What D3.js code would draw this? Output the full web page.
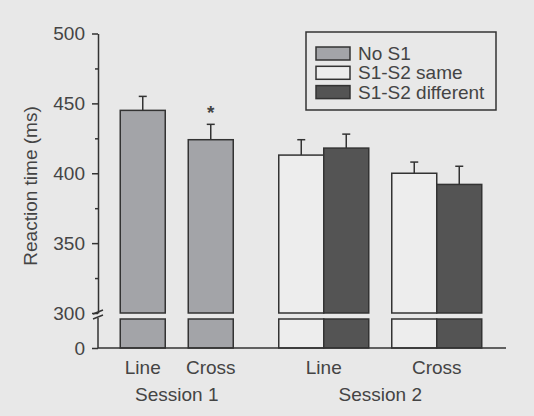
<!DOCTYPE html>
<html>
<head>
<meta charset="utf-8">
<script src="https://cdn.jsdelivr.net/npm/d3@7"></script>
<style>
  body { margin: 0; background: #e8e8e8; }
  svg { display: block; font-family: "Liberation Sans", Arial, sans-serif; }
</style>
</head>
<body>
<div id="container"></div>
<script>
(function(){

  // data
  var sessions = ["Session 1", "Session 2"]
  var conditions = ["Line", "Cross"]
  var seriesNames = ["No S1", "S1-S2 same", "S1-S2 different"]
  var seriesColors = ["#a3a4a8", "#ededed", "#545454"]

  // mean reaction time (ms) and error (ms), per condition [Line, Cross]
  var noS1Mean = [445, 424]
  var noS1Err = [10, 11]
  var sameMean = [413, 400]
  var sameErr = [11, 8]
  var diffMean = [418, 392]
  var diffErr = [10, 13]

  var yTicks = [300, 350, 400, 450, 500]
  var yMinor = [325, 375, 425, 475]

  var rows = []
  conditions.forEach(function(c, i){
    rows.push({session: "Session 1", cond: c, series: "No S1", mean: noS1Mean[i], err: noS1Err[i], star: c === "Cross"})
    rows.push({session: "Session 2", cond: c, series: "S1-S2 same", mean: sameMean[i], err: sameErr[i]})
    rows.push({session: "Session 2", cond: c, series: "S1-S2 different", mean: diffMean[i], err: diffErr[i]})
  })

  var width = 534, height = 416
  var svg = d3.select("#container").append("svg")
      .attr("width", width).attr("height", height)

  // scales
  var yTop = d3.scaleLinear().domain([300, 500]).range([313, 33.5])
  var yBot = d3.scaleLinear().domain([0, 300]).range([348, 319])
  var color = d3.scaleOrdinal().domain(seriesNames).range(seriesColors)

  var xSession = d3.scaleBand().domain(sessions).range([75, 482]).paddingInner(0)
  var barW = 45, condGap = 23

  function seriesIn(s){
    return seriesNames.filter(function(n){
      return rows.some(function(r){ return r.session === s && r.series === n })
    })
  }
  // per-session band for conditions, per-session band for series
  var xCond = {}, xSeries = {}
  sessions.forEach(function(s){
    var ser = seriesIn(s)
    var gw = ser.length * barW
    var total = conditions.length * gw + (conditions.length - 1) * condGap
    var c0 = xSession(s) + xSession.bandwidth() / 2 - total / 2
    var p = condGap / (gw + condGap)
    xCond[s] = d3.scaleBand().domain(conditions).range([c0, c0 + total]).paddingInner(p).paddingOuter(0)
    xSeries[s] = d3.scaleBand().domain(ser).range([0, gw])
  })
  function bx(d){ return xCond[d.session](d.cond) + xSeries[d.session](d.series) }

  var ink = "#333"
  var textCol = "#444"
  var fs = "19px"

  // bars - upper part
  svg.append("g").selectAll("rect")
    .data(rows).enter().append("rect")
      .attr("x", bx)
      .attr("y", function(d){ return yTop(d.mean) })
      .attr("width", barW)
      .attr("height", function(d){ return yTop(300) - yTop(d.mean) })
      .attr("fill", function(d){ return color(d.series) })
      .attr("stroke", ink).attr("stroke-width", 1.5)

  // bars - lower stub below the break
  svg.append("g").selectAll("rect")
    .data(rows).enter().append("rect")
      .attr("x", bx)
      .attr("y", yBot(300))
      .attr("width", barW)
      .attr("height", yBot(0) - yBot(300))
      .attr("fill", function(d){ return color(d.series) })
      .attr("stroke", ink).attr("stroke-width", 1.5)

  // error bars
  var eb = svg.append("g").attr("stroke", ink).attr("stroke-width", 1.5)
  rows.forEach(function(d){
    var cx = bx(d) + barW / 2
    eb.append("line").attr("x1", cx).attr("x2", cx)
      .attr("y1", yTop(d.mean)).attr("y2", yTop(d.mean + d.err))
    eb.append("line").attr("x1", cx - 4).attr("x2", cx + 4)
      .attr("y1", yTop(d.mean + d.err)).attr("y2", yTop(d.mean + d.err))
  })

  // significance star
  rows.filter(function(d){ return d.star }).forEach(function(d){
    svg.append("text")
      .attr("x", bx(d) + barW / 2).attr("y", yTop(d.mean + d.err) - 5)
      .attr("text-anchor", "middle").attr("fill", textCol)
      .style("font-size", "19px").style("font-weight", "bold").text("*")
  })

  // y axis (upper)
  var axisX = 98
  var yAxis = d3.axisLeft(yTop).tickValues(yTicks).tickSize(6).tickPadding(7).tickSizeOuter(0)
  var ga = svg.append("g").attr("transform", "translate(" + axisX + ",0)").call(yAxis)
  ga.select(".domain").attr("stroke", ink).attr("stroke-width", 1.5)
  ga.selectAll(".tick line").attr("stroke", ink).attr("stroke-width", 1.5)
  ga.selectAll(".tick text").attr("fill", textCol).style("font-size", fs)
  // minor ticks
  var gm = svg.append("g").attr("transform", "translate(" + axisX + ",0)")
    .call(d3.axisLeft(yTop).tickValues(yMinor).tickSize(3).tickFormat(""))
  gm.select(".domain").remove()
  gm.selectAll(".tick line").attr("stroke", ink).attr("stroke-width", 1.5)

  // y axis (lower)
  var gb = svg.append("g").attr("transform", "translate(" + axisX + ",0)")
    .call(d3.axisLeft(yBot).tickValues([0]).tickSize(6).tickPadding(7).tickSizeOuter(0))
  gb.select(".domain").attr("d", "M0," + (yBot(300) - 1) + "V" + yBot(0)).attr("stroke", ink).attr("stroke-width", 1.5)
  gb.selectAll(".tick line").attr("stroke", ink).attr("stroke-width", 1.5)
  gb.selectAll(".tick text").attr("fill", textCol).style("font-size", fs)

  // break marks
  var brk = svg.append("g").attr("stroke", ink).attr("stroke-width", 1.4)
  ;[0, 5].forEach(function(o){
    brk.append("line").attr("x1", axisX - 5).attr("x2", axisX + 5)
      .attr("y1", 314 + o).attr("y2", 310 + o)
  })

  // baseline
  svg.append("line").attr("x1", axisX).attr("x2", 506)
    .attr("y1", yBot(0)).attr("y2", yBot(0))
    .attr("stroke", ink).attr("stroke-width", 1.5)

  // x labels
  var xl = svg.append("g").attr("fill", textCol).attr("text-anchor", "middle").style("font-size", fs)
  sessions.forEach(function(s){
    conditions.forEach(function(c){
      xl.append("text")
        .attr("x", xCond[s](c) + xCond[s].bandwidth() / 2)
        .attr("y", 374).text(c)
    })
    xl.append("text")
      .attr("x", xSession(s) + xSession.bandwidth() / 2)
      .attr("y", 401).text(s)
  })

  // y title
  svg.append("text")
    .attr("transform", "translate(37,186) rotate(-90)")
    .attr("text-anchor", "middle").attr("fill", textCol)
    .style("font-size", fs)
    .text("Reaction time (ms)")

  // legend
  var lg = svg.append("g")
  lg.append("rect").attr("x", 306).attr("y", 32).attr("width", 190).attr("height", 78)
    .attr("fill", "#e8e8e8").attr("stroke", ink).attr("stroke-width", 1.5)
  seriesNames.forEach(function(n, i){
    var yy = 53.5 + i * 19.3
    lg.append("rect").attr("x", 316).attr("y", yy - 6.5).attr("width", 34).attr("height", 13)
      .attr("fill", color(n)).attr("stroke", ink).attr("stroke-width", 1.5)
    lg.append("text").attr("x", 358).attr("y", yy + 6.5)
      .attr("fill", textCol).style("font-size", "19px").text(n)
  })

})()
</script>
</body>
</html>
